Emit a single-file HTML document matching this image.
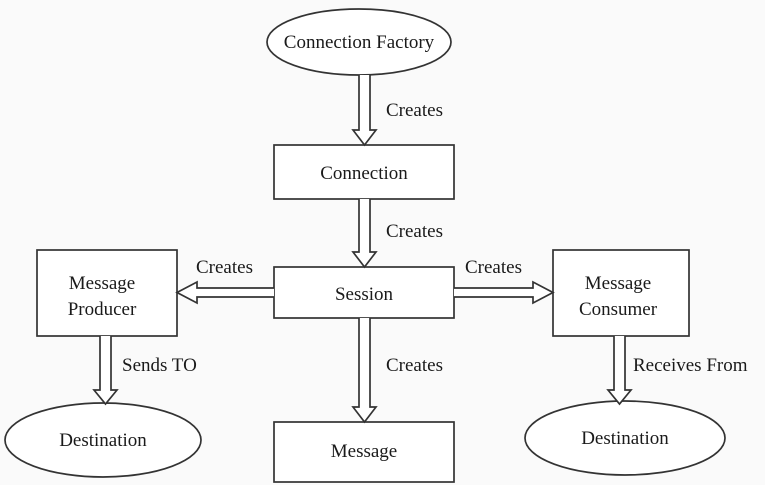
<!DOCTYPE html><html><head><style>body{margin:0;background:#fafafa}svg{display:block}text{font-family:"Liberation Serif",serif;font-size:19px;fill:#1a1a1a}</style></head><body>
<svg width="765" height="485" viewBox="0 0 765 485" xmlns="http://www.w3.org/2000/svg">
<rect width="765" height="485" fill="#fafafa"/>
<g fill="#fff" stroke="#333" stroke-width="1.7">
<ellipse cx="359" cy="42" rx="92" ry="33"/>
<rect x="274" y="145" width="180" height="54"/>
<rect x="274" y="267" width="180" height="51"/>
<rect x="37" y="250" width="140" height="86"/>
<rect x="553" y="250" width="136" height="86"/>
<rect x="274" y="422" width="180" height="60"/>
<ellipse cx="103" cy="440" rx="98" ry="37"/>
<ellipse cx="625" cy="438" rx="100" ry="37"/>
<path d="M359 75 V130 H353 L364.5 145 L376 130 H370 V75"/>
<path d="M359 199 V252 H353 L364.5 267 L376 252 H370 V199"/>
<path d="M359 318 V407 H353 L364.5 422 L376 407 H370 V318"/>
<path d="M100 336 V390 H94 L105.5 404 L117 390 H111 V336"/>
<path d="M614 336 V390 H608 L619.5 404 L631 390 H625 V336"/>
<path d="M274 288 H197 V282 L177 292.5 L197 303 V297 H274"/>
<path d="M454 288 H533 V282 L553 292.5 L533 303 V297 H454"/>
</g>
<g text-anchor="middle">
<text x="359" y="48">Connection Factory</text>
<text x="364" y="179">Connection</text>
<text x="364" y="300">Session</text>
<text x="102" y="289">Message</text>
<text x="102" y="315">Producer</text>
<text x="618" y="289">Message</text>
<text x="618" y="315">Consumer</text>
<text x="364" y="457">Message</text>
<text x="103" y="446">Destination</text>
<text x="625" y="444">Destination</text>
</g>
<text x="386" y="116">Creates</text>
<text x="386" y="237">Creates</text>
<text x="386" y="371">Creates</text>
<text x="196" y="273">Creates</text>
<text x="465" y="273">Creates</text>
<text x="122" y="371">Sends TO</text>
<text x="633" y="371">Receives From</text>
</svg></body></html>
